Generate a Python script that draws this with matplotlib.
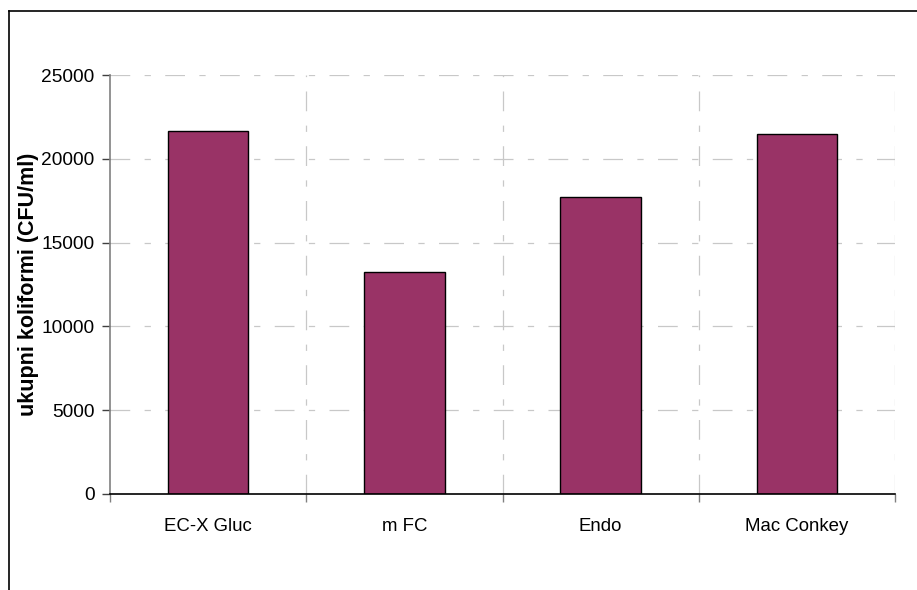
import matplotlib
matplotlib.use("Agg")
import matplotlib.pyplot as plt
from matplotlib.lines import Line2D

categories = ["EC-X Gluc", "m FC", "Endo", "Mac Conkey"]
values = [21650, 13230, 17750, 21480]
yticks = [0, 5000, 10000, 15000, 20000, 25000]
ylabel = "ukupni koliformi (CFU/ml)"

plt.rcParams['font.family'] = ['Liberation Sans', 'DejaVu Sans']

fig = plt.figure(figsize=(9.17, 5.90), dpi=100)
ax = fig.add_axes([110/917, 1-494/590, (895-110)/917, (494-75)/590])

dash = (0, (15.8, 11.5, 5, 11.5))
grid_color = "#c8c8c8"
for y in yticks[1:]:
    ax.axhline(y, color=grid_color, lw=0.9, linestyle=dash, zorder=1)
for x in [0.5, 1.5, 2.5, 3.5]:
    ax.axvline(x, color=grid_color, lw=0.9, linestyle=dash, zorder=1)

x = list(range(len(categories)))
ax.bar(x, values, width=0.41, color="#993366", edgecolor="black", linewidth=1.0, zorder=3)

ax.set_xlim(-0.5, 3.5)
ax.set_ylim(0, 25000)
ax.set_yticks(yticks)
ax.set_yticklabels([str(v) for v in yticks], fontsize=13.8)
ax.set_xticks(x)
ax.set_xticklabels(categories, fontsize=13.4)
ax.tick_params(axis='x', length=0, pad=17)
ax.tick_params(axis='y', length=6, width=1, color="#404040", pad=5)

# boundary ticks on x axis
ax.set_xticks([-0.5, 0.5, 1.5, 2.5, 3.5], minor=True)
ax.tick_params(axis='x', which='minor', length=6, width=1, color="#808080")

for s in ["top", "right"]:
    ax.spines[s].set_visible(False)
ax.spines["left"].set_color("#808080")
ax.spines["left"].set_linewidth(1.2)
ax.spines["bottom"].set_color("black")
ax.spines["bottom"].set_linewidth(1.2)
ax.spines["bottom"].set_zorder(4)

ax.set_ylabel(ylabel, fontsize=15.5, fontweight="bold", labelpad=2)

# outer frame (partially visible)
fig.add_artist(Line2D([9/917, 9/917], [0, 1-11/590], transform=fig.transFigure, color="black", lw=1.2))
fig.add_artist(Line2D([9/917, 1], [1-11/590, 1-11/590], transform=fig.transFigure, color="black", lw=1.2))

fig.savefig("out.png", dpi=100)
